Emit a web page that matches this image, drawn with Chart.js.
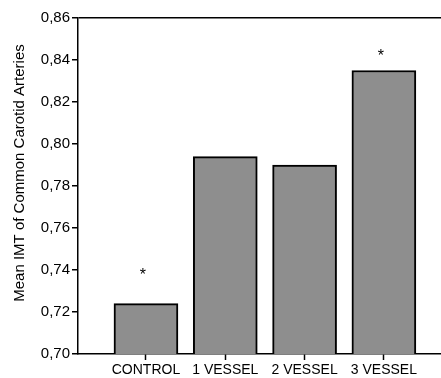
<!DOCTYPE html>
<html>
<head>
<meta charset="utf-8">
<script src="https://cdn.jsdelivr.net/npm/chart.js@4/dist/chart.umd.min.js"></script>
<style>
  html, body { margin: 0; padding: 0; background: #fff; }
  #wrap { width: 441px; height: 378px; }
</style>
</head>
<body>
<div id="wrap"><canvas id="grafica"></canvas></div>
<script>
const categories = ['CONTROL', '1 VESSEL', '2 VESSEL', '3 VESSEL'];
const imtValues = [0.724, 0.794, 0.790, 0.835];
// asterisk positions (value on the y axis), null = no mark
const starValues = [0.739, null, null, 0.843];
const yTicks = [0.70, 0.72, 0.74, 0.76, 0.78, 0.80, 0.82, 0.84, 0.86];

const fontFam = "'Liberation Sans', Arial, Helvetica, sans-serif";

const extras = {
    id: 'extras',
    afterDatasetsDraw(chart) {
        const ctx = chart.ctx;
        const x = chart.scales.x;
        const y = chart.scales.y;
        ctx.save();
        ctx.fillStyle = '#000';
        ctx.font = '16px ' + fontFam;
        ctx.textAlign = 'center';
        ctx.textBaseline = 'middle';
        starValues.forEach((v, i) => {
            if (v === null) return;
            ctx.fillText('*', x.getPixelForValue(i) - 3, y.getPixelForValue(v) + 3);
        });
        // y axis title
        ctx.translate(20, 173);
        ctx.rotate(-Math.PI / 2);
        ctx.font = '15px ' + fontFam;
        ctx.fillText('Mean IMT of Common Carotid Arteries', 0, 0);
        ctx.restore();
    }
};

const graph = document.querySelector('#grafica');

new Chart(graph, {
    type: 'bar',
    data: {
        datasets: [{
            data: imtValues.map((v, i) => ({ x: i, y: v })),
            backgroundColor: '#8e8e8e',
            borderColor: '#000',
            borderWidth: 2,
            barThickness: 64
        }]
    },
    options: {
        responsive: true,
        maintainAspectRatio: false,
        animation: false,
        layout: { padding: { top: 18, right: 0, left: 0, bottom: 0 } },
        plugins: { legend: { display: false }, tooltip: { enabled: false } },
        scales: {
            x: {
                type: 'linear',
                offset: false,
                min: -0.857,
                max: 3.72,
                afterBuildTicks: s => { s.ticks = categories.map((c, i) => ({ value: i })); },
                afterFit: s => { s.height = 24; },
                border: { color: '#000', width: 1.5 },
                grid: { offset: false, drawOnChartArea: false, tickColor: '#000', tickLength: 6, tickWidth: 1.5 },
                ticks: {
                    color: '#000',
                    padding: 2,
                    maxRotation: 0,
                    autoSkip: false,
                    font: { family: fontFam, size: 14 },
                    callback: v => categories[v]
                }
            },
            y: {
                min: 0.70,
                max: 0.86,
                afterBuildTicks: s => { s.ticks = yTicks.map(v => ({ value: v })); },
                afterFit: s => { s.width = 78; },
                border: { color: '#000', width: 1.5 },
                grid: {
                    color: c => (c.tick && Math.abs(c.tick.value - 0.86) < 1e-6) ? '#000' : 'rgba(0,0,0,0)',
                    lineWidth: 1.5,
                    tickColor: '#000',
                    tickLength: 6,
                    tickWidth: 1.5
                },
                ticks: {
                    color: '#000',
                    padding: 2,
                    font: { family: fontFam, size: 15 },
                    callback: v => v.toFixed(2).replace('.', ',')
                }
            }
        }
    },
    plugins: [extras]
});
</script>
</body>
</html>
